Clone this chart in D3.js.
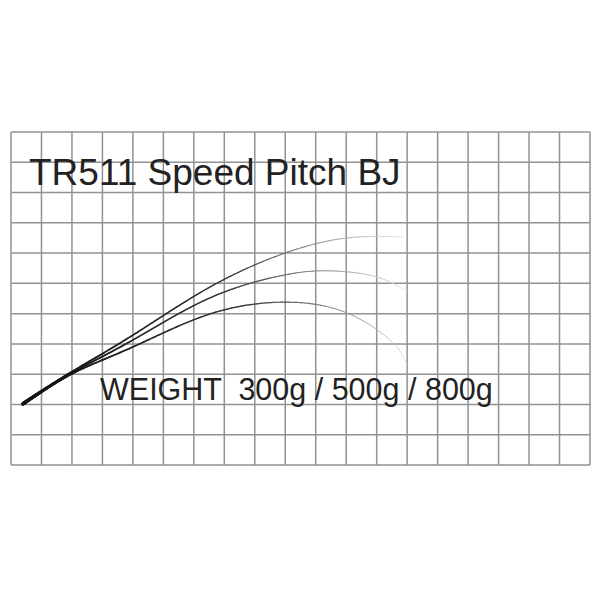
<!DOCTYPE html>
<html>
<head>
<meta charset="utf-8">
<script src="https://cdn.jsdelivr.net/npm/d3@7"></script>
<style>
  body { margin: 0; background: #fff; }
  svg { display: block; }
</style>
</head>
<body>
<div id="chart"></div>
<script>
// grid size (cells)
const cols = 19;
const rows = 11;

const title = "TR511 Speed Pitch BJ";
const weightLabel = "WEIGHT  300g / 500g / 800g";
const weights = ["300g", "500g", "800g"];

// rod bend curves, in grid units (x from left, y from bottom)
const curve300x = [0.39, 2.03, 4.0, 6.53, 8.99, 11.03, 12.93];
const curve300y = [2.02, 3.10, 4.29, 5.88, 7.0, 7.50, 7.53];
const curve500x = [0.39, 2.03, 4.0, 6.53, 8.99, 10.57, 12.01, 13.0];
const curve500y = [2.02, 3.06, 4.13, 5.52, 6.28, 6.41, 6.21, 5.72];
const curve800x = [0.39, 2.03, 4.0, 6.53, 8.99, 11.03, 12.54, 13.0];
const curve800y = [2.02, 3.03, 3.90, 4.99, 5.38, 5.02, 4.03, 3.24];

const curves = [
  { name: weights[0], xs: curve300x, ys: curve300y },
  { name: weights[1], xs: curve500x, ys: curve500y },
  { name: weights[2], xs: curve800x, ys: curve800y }
];

const width = 600, height = 600;
const svg = d3.select("#chart").append("svg")
  .attr("width", width).attr("height", height);

const x = d3.scaleLinear().domain([0, cols]).range([11, 590]);
const y = d3.scaleLinear().domain([0, rows]).range([465, 132]);

// grid
const grid = svg.append("g")
  .attr("stroke", "#929292")
  .attr("stroke-width", 1.5);
grid.selectAll("line.v")
  .data(d3.range(0, cols + 1))
  .enter().append("line")
  .attr("class", "v")
  .attr("x1", d => x(d)).attr("x2", d => x(d))
  .attr("y1", y(0)).attr("y2", y(rows));
grid.selectAll("line.h")
  .data(d3.range(0, rows + 1))
  .enter().append("line")
  .attr("class", "h")
  .attr("y1", d => y(d)).attr("y2", d => y(d))
  .attr("x1", x(0)).attr("x2", x(cols));

// title
svg.append("text")
  .attr("x", 29)
  .attr("y", 185)
  .style("font-family", "'Liberation Sans', Arial, sans-serif")
  .style("font-size", "37px")
  .attr("fill", "#222")
  .text(title);

// curves: draw each as many short pieces so the tip can taper and fade
const line = d3.line()
  .x(d => x(d[0]))
  .y(d => y(d[1]))
  .curve(d3.curveNatural);

const widthScale = d3.scaleLinear().domain([0, 0.15, 1]).range([3.4, 1.8, 0.7]).clamp(true);
const colorScale = d3.scaleLinear().domain([0, 0.55, 0.8, 1]).range(["#111", "#333", "#999", "#e6e6e6"]).clamp(true);

const curveG = svg.append("g").attr("fill", "none").attr("stroke-linecap", "round");
curves.forEach(function(c) {
  const pts = c.xs.map((v, i) => [v, c.ys[i]]);
  const tmp = svg.append("path").attr("d", line(pts)).attr("fill", "none");
  const node = tmp.node();
  const total = node.getTotalLength();
  const step = 2;
  const samples = [];
  for (var s = 0; s <= total; s += step) {
    const p = node.getPointAtLength(s);
    samples.push([p.x, p.y, s / total]);
  }
  tmp.remove();
  const segs = d3.pairs(samples);
  curveG.append("g").selectAll("line")
    .data(segs)
    .enter().append("line")
    .attr("x1", d => d[0][0]).attr("y1", d => d[0][1])
    .attr("x2", d => d[1][0]).attr("y2", d => d[1][1])
    .attr("stroke", d => colorScale(d[0][2]))
    .attr("stroke-width", d => widthScale(d[0][2]));
});

// weight label
svg.append("text")
  .attr("x", 100)
  .attr("y", 400)
  .attr("xml:space", "preserve")
  .style("white-space", "pre")
  .style("font-family", "'Liberation Sans', Arial, sans-serif")
  .style("font-size", "30.5px")
  .attr("fill", "#222")
  .text(weightLabel);
</script>
</body>
</html>
